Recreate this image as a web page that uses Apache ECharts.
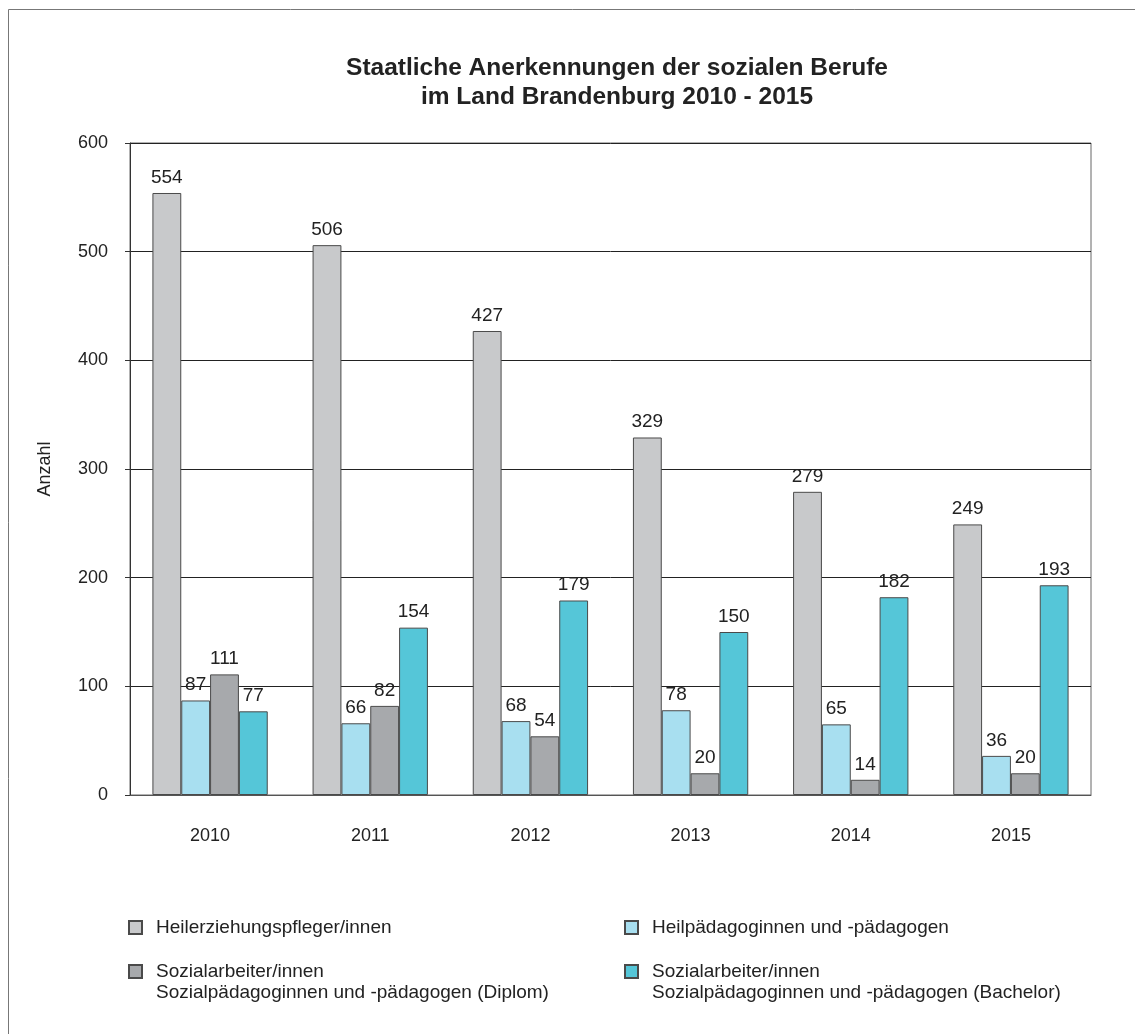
<!DOCTYPE html>
<html>
<head>
<meta charset="utf-8">
<script src="https://cdn.jsdelivr.net/npm/echarts@6/dist/echarts.min.js"></script>
<style>html,body{margin:0;padding:0;background:#fff}#c{width:1135px;height:1034px}</style>
</head>
<body>
<div id="c"></div>
<script>
const years = ['2010', '2011', '2012', '2013', '2014', '2015'];
const heilerziehung = [554, 506, 427, 329, 279, 249];
const heilpaed = [87, 66, 68, 78, 65, 36];
const diplom = [111, 82, 54, 20, 14, 20];
const bachelor = [77, 154, 179, 150, 182, 193];
const yTicks = [0, 100, 200, 300, 400, 500, 600];

const names = [
  'Heilerziehungspfleger/innen',
  'Heilpädagoginnen und -pädagogen',
  'Sozialarbeiter/innen\nSozialpädagoginnen und -pädagogen (Diplom)',
  'Sozialarbeiter/innen\nSozialpädagoginnen und -pädagogen (Bachelor)'
];
const colors = ['#c8c9cb', '#a8dff0', '#a7a9ac', '#55c6d8'];
const values = [heilerziehung, heilpaed, diplom, bachelor];
const FONT = '"Liberation Sans", Arial, sans-serif';

const chart = echarts.init(document.getElementById('c'));
const series = names.map((n, i) => ({
  name: n,
  type: 'bar',
  data: values[i],
  barGap: '0%',
  barCategoryGap: '28%',
  itemStyle: { color: colors[i], borderColor: '#4a4a4a', borderWidth: 1 },
  label: { show: true, position: 'top', distance: 6, color: '#222', fontSize: 19, fontFamily: FONT },
  emphasis: { disabled: true }
}));

const LH = 21;
function legend(i, left, top) {
  return {
    data: [{ name: names[i], icon: 'rect' }],
    left: left, top: top,
    orient: 'horizontal',
    padding: 0,
    itemWidth: 13, itemHeight: 13,
    selectedMode: false,
    // two-line names: a blank line above keeps the first line level with the icon
    formatter: n => n.indexOf('\n') >= 0 ? ' \n' + n : n,
    textStyle: {
      fontFamily: FONT, fontSize: 19, color: '#222', lineHeight: LH,
      padding: [0, 0, 0, 9]
    }
  };
}

chart.setOption({
  animation: false,
  backgroundColor: '#fff',
  graphic: [
    { type: 'rect', shape: { x: 8.5, y: 9.5, width: 1300, height: 1200 }, style: { fill: 'none', stroke: '#777', lineWidth: 1 } },
    { type: 'text', x: 617, y: 83, style: { text: 'Staatliche Anerkennungen der sozialen Berufe\nim Land Brandenburg 2010 - 2015', textAlign: 'center', textVerticalAlign: 'middle', font: 'bold 24.5px ' + FONT, lineHeight: 29, fill: '#222' } }
  ],
  legend: [
    legend(0, 128, 917),
    legend(1, 624, 917),
    legend(2, 128, 940),
    legend(3, 624, 940)
  ],
  grid: { left: 130, right: 44, top: 143, bottom: 239, show: true, borderColor: '#666', borderWidth: 1, backgroundColor: 'transparent' },
  xAxis: {
    type: 'category',
    data: years,
    axisLine: { show: true, lineStyle: { color: '#555', width: 1 } },
    axisTick: { show: false },
    axisLabel: { margin: 32, fontSize: 18, color: '#222', fontFamily: FONT }
  },
  yAxis: {
    type: 'value',
    min: yTicks[0], max: yTicks[yTicks.length - 1], interval: 100,
    name: 'Anzahl',
    nameLocation: 'middle',
    nameGap: 76,
    nameTextStyle: { fontSize: 18, color: '#222', fontFamily: FONT },
    axisLine: { show: true, lineStyle: { color: '#333', width: 1 } },
    axisTick: { show: true, length: 5, lineStyle: { color: '#333' } },
    axisLabel: { margin: 22, fontSize: 18, color: '#222', fontFamily: FONT },
    splitLine: { show: true, lineStyle: { color: '#222', width: 1 } }
  },
  series: series
});
</script>
</body>
</html>
